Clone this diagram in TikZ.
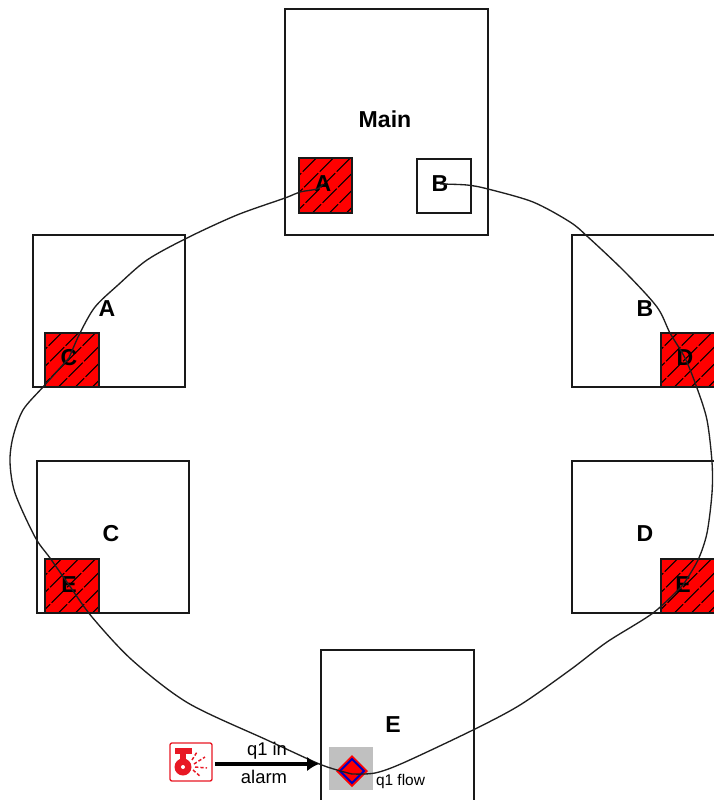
\documentclass[tikz,border=0pt]{standalone}
\usepackage{fontspec}
\setmainfont{Liberation Sans}
\usetikzlibrary{arrows.meta}
\definecolor{hatchred}{RGB}{255,0,0}
\definecolor{graybox}{RGB}{192,192,192}
\definecolor{iconred}{RGB}{232,24,36}
\tikzset{
  x=0.75pt,y=-0.75pt,
  modulebox/.style={draw=black!90,line width=1.4pt,fill=white},
  plainport/.style={draw=black!90,line width=1.3pt,fill=white},
  hatched/.style={draw=black!90,line width=1.3pt,fill=hatchred,path picture={
    \foreach \d in {-60,-43,...,120}{
      \draw[black,line width=0.8pt,dash pattern=on 15pt off 1.5pt]
        ([xshift=\d*0.75pt,yshift=-4pt]path picture bounding box.south west)
        -- ++(60*0.75pt,60*0.75pt);
    }}},
  bigtxt/.style={font=\bfseries\fontsize{17.3}{19}\selectfont,inner sep=0pt},
  smalltxt/.style={font=\fontsize{13.8}{15}\selectfont,inner sep=0pt},
  flowtxt/.style={font=\fontsize{11.6}{13}\selectfont,inner sep=0pt},
  wire/.style={draw=black!88,line width=1pt},
}
\begin{document}
\begin{tikzpicture}
\useasboundingbox (0,0) rectangle (714,800);
\clip (0,0) rectangle (714,800);
\fill[white] (0,0) rectangle (714,800);
% module boxes
\draw[modulebox] (285,9) rectangle (488,235);
\draw[modulebox] (33,235) rectangle (185,387);
\draw[modulebox] (572,235) rectangle (730,387);
\draw[modulebox] (37,461) rectangle (189,613);
\draw[modulebox] (572,461) rectangle (730,613);
\draw[modulebox] (321,650) rectangle (474,820);
% module titles
\node[bigtxt] (tmain) at (385,119) {Main};
\node[bigtxt] (ta) at (107,309) {A};
\node[bigtxt] (tb) at (645,309) {B};
\node[bigtxt] (tc) at (111,534) {C};
\node[bigtxt] (td) at (645,534) {D};
\node[bigtxt] (te) at (393,725) {E};
% ports
\path[hatched] (299,158) rectangle (352,213);
\path[plainport] (417,159) rectangle (471,213);
\path[hatched] (45,333) rectangle (99,387);
\path[hatched] (45,559) rectangle (99,613);
\path[hatched] (661,333) rectangle (716,387);
\path[hatched] (661,559) rectangle (716,613);
\node[bigtxt] (pa) at (323,184) {A};
\node[bigtxt] (pb) at (440,184) {B};
\node[bigtxt] (pc) at (69,358) {C};
\node[bigtxt] (pe) at (69,585) {E};
\node[bigtxt] (pd) at (685,358) {D};
\node[bigtxt] (pf) at (683,585) {E};
% queue
\fill[graybox] (329,747) rectangle (373,790);
\fill[hatchred] (352,755) -- (368,771) -- (352,787) -- (336,771) -- cycle;
\draw[draw=blue!75!black,fill=hatchred,line width=1.5pt] (352,759) -- (364,771) -- (352,783) -- (340,771) -- cycle;
\coordinate (qc) at (352,774);
% wires
\draw[wire] plot[smooth,tension=0.5] coordinates {(pa.center) (317,189) (300,192) (285,198) (237,215) (187,238) (147,260) (118,285) (95,307) (80,333) (pc.center)};
\draw[wire] plot[smooth,tension=0.5] coordinates {(pb.center) (467,185) (488,189) (533,202) (570,222) (588,237) (625,272) (657,307) (670,333) (pd.center) (697,388) (707,420) (712,462) (712,493) (707,533) (698,560) (pf.center)};
\draw[wire] plot[smooth,tension=0.5] coordinates {(pc.center) (43,387) (23,410) (13,437) (10,462) (15,493) (35,537) (50,558) (pe.center) (92,617) (132,660) (188,703) (267,740) (317,763) (337,770) (qc)};
\draw[wire] plot[smooth,tension=0.5] coordinates {(pf.center) (653,613) (607,642) (570,670) (520,705) (473,730) (403,763) (375,773) (qc)};
% alarm icon
\draw[iconred,fill=white,line width=1pt,rounded corners=1.5pt] (170,743) rectangle (212,781);
\fill[iconred] (175,748) rectangle (192,754);
\fill[iconred] (180,754) rectangle (186,760);
\fill[iconred] (183,767) circle[radius=8.5];
\fill[white] (183,767) circle[radius=2];
\draw[iconred,line width=1.1pt,dash pattern=on 2.5pt off 1.5pt] (194,764) -- (205,757) (195,767) -- (207,768) (193,770) -- (201,777) (192,760) -- (197,752);
\coordinate (icon) at (215,764);
\coordinate (portin) at (319,764);
\draw[line width=3.6pt,-{Latex[length=9pt,width=11pt]}] (icon) -- (portin);
\node[smalltxt] (lq) at (267,751) {q1 in};
\node[smalltxt] (la) at (264,777) {alarm};
\node[flowtxt] (lf) at (400.5,781) {q1 flow};
\end{tikzpicture}
\end{document}
